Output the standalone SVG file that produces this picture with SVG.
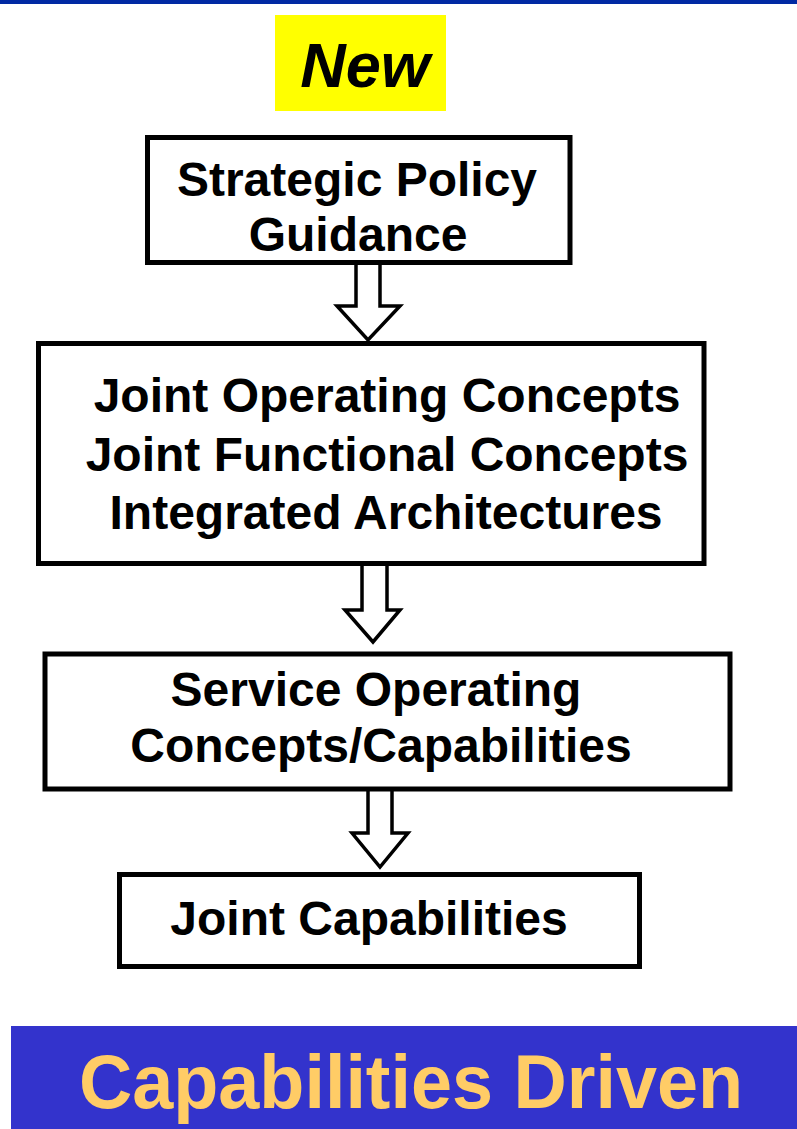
<svg xmlns="http://www.w3.org/2000/svg" width="797" height="1129" viewBox="0 0 797 1129">
<style>
.box{fill:#ffffff;stroke:#000000;stroke-width:5}
.arr{fill:#ffffff;stroke:#000000;stroke-width:3.5;stroke-linejoin:miter}
.t{font-family:"Liberation Sans",Arial,sans-serif;font-weight:bold;font-size:48px;fill:#000000;text-anchor:middle}
</style>
<rect x="0" y="0" width="797" height="1129" fill="#ffffff"/>
<rect x="0" y="0" width="797" height="4" fill="#0029a3"/>
<g id="new-label">
<rect x="275" y="15" width="171" height="96" fill="#ffff00"/>
<text x="365" y="87" font-family="Liberation Sans,Arial,sans-serif" font-weight="bold" font-style="italic" font-size="63" text-anchor="middle" fill="#000000">New</text>
</g>
<g id="connectors">
<polygon class="arr" points="356,262 380,262 380,306 400,306 368,340 337,306 356,306"/>
<polygon class="arr" points="362,562 387,562 387,610 400,610 373,642 345,610 362,610"/>
<polygon class="arr" points="368,788 392,788 392,833 408,833 380,867 352,833 368,833"/>
</g>
<g id="node-strategic">
<rect class="box" x="147.5" y="137.5" width="422.5" height="125"/>
<text class="t" x="357" y="196">Strategic Policy</text>
<text class="t" x="358" y="251">Guidance</text>
</g>
<g id="node-joint-concepts">
<rect class="box" x="38.5" y="343.5" width="665.5" height="220"/>
<text class="t" x="387" y="412">Joint Operating Concepts</text>
<text class="t" x="387" y="471">Joint Functional Concepts</text>
<text class="t" x="386" y="529">Integrated Architectures</text>
</g>
<g id="node-service">
<rect class="box" x="45" y="654" width="685" height="135"/>
<text class="t" x="376" y="706">Service Operating</text>
<text class="t" x="381" y="762">Concepts/Capabilities</text>
</g>
<g id="node-joint-capabilities">
<rect class="box" x="119.5" y="874.5" width="520" height="92"/>
<text class="t" x="369" y="935">Joint Capabilities</text>
</g>
<g id="banner">
<rect x="11" y="1026" width="786" height="103" fill="#3333cc"/>
<text x="411" y="1108" font-family="Liberation Sans,Arial,sans-serif" font-weight="bold" font-size="76" text-anchor="middle" fill="#ffcc66" textLength="664" lengthAdjust="spacingAndGlyphs">Capabilities Driven</text>
</g>
</svg>
